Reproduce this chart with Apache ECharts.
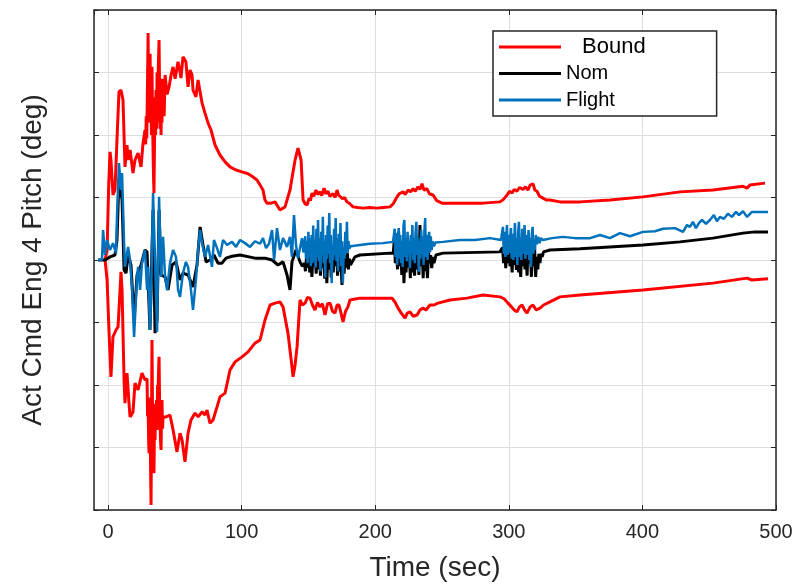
<!DOCTYPE html>
<html>
<head>
<meta charset="utf-8">
<script src="https://cdn.jsdelivr.net/npm/echarts@6/dist/echarts.min.js"></script>
<style>
  html, body { margin: 0; padding: 0; background: #fff; }
  #chart { width: 795px; height: 585px; }
</style>
</head>
<body>
<div id="chart"></div>
<script>
// Engine 4 pitch command: upper/lower bounds, nominal and flight traces.
// Each entry is [time (sec), pitch (deg)].
const boundUpper = [
  [-2.2,0],[-0.7,0.16],[0.5,1.2],[1.5,1.73],[2.2,1.6],[3.7,1.04],[5.2,1.12],[6.7,1.92],[8.2,2.69],[9.7,2.72],
  [11.2,2.56],[12.7,1.49],[14.2,1.84],[15,1.6],[16.5,1.76],[18.7,1.39],[20.2,1.6],[22.5,1.71],[24.7,1.49],[26.2,1.87],
  [27.7,2.08],[28.2,1.85],[28.6,2.3],[29,1.95],[29.4,2.6],[29.7,3.1],[30,3.63],[30.3,2.6],[30.6,2.2],[30.9,3.0],
  [31.2,2.5],[31.5,3.3],[31.8,2.4],[32.1,2.9],[32.5,2.0],[32.9,3.09],[33.3,2.3],[33.7,1.76],[34.1,1.3],[34.4,1.07],
  [34.8,1.9],[35.2,2.6],[35.6,2.0],[35.9,2.72],[36.3,2.1],[36.7,3.0],[37,2.2],[37.4,2.88],[37.8,3.2],[38.2,3.52],
  [38.6,2.7],[38.9,2.1],[39.3,2.9],[39.7,2.0],[40.1,2.7],[40.4,2.2],[40.8,2.9],[41.2,2.5],[41.6,2.8],[42,2.3],
  [42.7,2.96],[44.2,2.65],[45.7,2.77],[47.2,2.96],[48.7,3.09],[50.2,2.9],[52.4,3.17],[53.9,3.01],[54.6,2.91],[56.1,3.25],
  [58.3,3.17],[59.9,2.77],[61.4,3.04],[62.9,2.96],[63.6,2.72],[65.8,2.61],[67.4,2.88],[68.9,2.69],[70.4,2.51],[72.6,2.35],
  [74.9,2.19],[77.1,2.08],[80.1,1.84],[83.8,1.68],[87.6,1.57],[91.3,1.49],[95.8,1.44],[100.3,1.41],[104.8,1.38],[107.8,1.34],
  [111.5,1.28],[113.8,1.2],[116,1.12],[117.5,0.96],[119,0.91],[122,0.91],[125,0.93],[128.7,0.8],[132.5,0.85],[136.2,1.12],
  [140,1.6],[142.2,1.79],[144.5,1.6],[146,0.96],[147.5,0.9],[149,0.88],[150.5,0.99],[151.5,0.95],[152.7,1.07],[154,1.02],
  [155.7,1.12],[157,1.05],[158.7,1.09],[160,1.03],[161.7,1.15],[163,1.06],[164.7,1.1],[166,1.02],[168.4,1.06],[170,1.0],
  [171.4,1.12],[172.5,1.04],[173.7,1.07],[175.5,0.98],[177,1.0],[178.9,0.93],[181,0.9],[183.4,0.85],[187,0.84],[190.9,0.83],
  [196,0.84],[201.3,0.83],[206,0.84],[211.1,0.85],[213.5,0.9],[216.3,1.01],[218,1.06],[220.8,1.09],[222.5,1.05],[224.6,1.12],
  [226.5,1.09],[228.3,1.14],[230,1.1],[232,1.17],[233.5,1.13],[235,1.22],[236.5,1.12],[238.8,1.14],[240.5,1.06],[243.3,1.04],
  [246,0.95],[250,0.91],[256,0.91],[268.7,0.91],[280.7,0.91],[293.4,0.93],[296,0.97],[298.7,1.04],[300.5,1.1],[302.4,1.07],
  [304,1.13],[306.1,1.1],[308,1.16],[310.6,1.13],[312.5,1.17],[314.4,1.12],[316,1.2],[318.1,1.22],[319.5,1.12],[321.1,1.1],
  [323,1.02],[325.6,0.99],[328,0.96],[330.8,0.96],[338.3,0.93],[353.3,0.93],[375.7,0.96],[400.4,1.01],[428.1,1.09],[452.8,1.12],
  [475.3,1.18],[478.3,1.15],[480.5,1.2],[491.8,1.23]
];

const boundLower = [
  [-2.2,0],[-0.7,-0.32],[0.7,-1.12],[2.2,-1.87],[3.7,-1.23],[6,-1.12],[7.5,-1.07],[9,-0.48],[9.7,-0.19],[10.5,-0.48],
  [12,-1.92],[12.7,-2.29],[14.2,-1.81],[15.7,-2.29],[16.5,-2.51],[18.7,-2.43],[20.2,-1.97],[22.5,-2.08],[25.4,-1.81],[27.7,-1.92],
  [29.2,-1.9],[29.6,-2.5],[30,-2.35],[30.4,-2.9],[30.7,-3.09],[31,-2.2],[31.3,-2.9],[31.7,-3.0],[32,-3.6],[32.2,-3.92],
  [32.6,-2.5],[32.9,-1.28],[33.3,-2.4],[33.7,-2.6],[34,-3.1],[34.4,-3.41],[34.8,-2.5],[35.2,-2.88],[35.6,-2.3],[35.9,-2.7],
  [36.3,-2.24],[36.7,-2.72],[37.1,-2.0],[37.4,-2.2],[37.8,-1.8],[38.2,-1.55],[38.6,-2.3],[38.9,-2.56],[39.3,-2.9],[39.7,-3.04],
  [40.1,-2.4],[40.4,-2.24],[40.8,-2.7],[41.2,-2.51],[43.4,-2.51],
  [46.4,-2.48],[48.7,-2.72],[51.6,-3.07],[53.9,-2.77],[55.4,-2.88],[57.6,-3.23],[59.9,-2.77],[62.1,-2.56],[65.1,-2.45],[67.4,-2.51],
  [70.4,-2.43],[72.6,-2.48],[74.1,-2.4],[76.3,-2.61],[78.6,-2.56],[81.6,-2.35],[83.8,-2.19],[87.6,-2.13],[91.3,-1.76],[95.1,-1.63],
  [100.3,-1.55],[104.8,-1.47],[110,-1.33],[113.8,-1.28],[117.5,-0.96],[121.3,-0.72],[125,-0.69],[128.7,-0.67],[131,-0.75],[134.7,-1.17],
  [137.7,-1.71],[138.5,-1.87],[140,-1.68],[141.5,-1.39],[143.7,-0.64],[145.5,-0.72],[147.5,-0.69],[149.3,-0.6],[151.2,-0.61],[153,-0.72],
  [154.9,-0.8],[156.8,-0.68],[158.7,-0.75],[160.5,-0.7],[162.4,-0.88],[164.3,-0.7],[166.2,-0.69],[168,-0.82],[169.9,-0.85],[171.4,-0.72],
  [172.9,-0.72],[174.4,-0.85],[175.9,-0.99],[177.8,-0.82],[179.6,-0.75],[181.1,-0.64],[188.6,-0.61],[201.3,-0.61],[212.6,-0.61],[215,-0.68],
  [217.1,-0.77],[219.5,-0.85],[222.3,-0.93],[224,-0.85],[226,-0.83],[228.5,-0.9],[231.3,-0.88],[233.5,-0.8],[235.8,-0.77],[238,-0.8],
  [241,-0.72],[244,-0.72],[247,-0.69],[256,-0.64],[268.7,-0.61],[280.7,-0.56],[293.4,-0.59],[296.5,-0.62],[299.4,-0.69],[302,-0.75],
  [304,-0.8],[306.1,-0.83],[308,-0.75],[309.9,-0.72],[311.8,-0.8],[313.6,-0.85],[316,-0.75],[318.1,-0.72],[320.5,-0.8],[323.4,-0.77],
  [326,-0.72],[330.8,-0.67],[338.3,-0.59],[353.3,-0.56],[400.4,-0.48],[452.8,-0.37],[478.3,-0.29],[482,-0.32],[494,-0.3]
];

const nom = [
  [-7.5,0],[-2.2,0],[1.5,0.05],[5.2,0.08],[6.7,0.32],[8.2,1.3],[10.5,0.96],[12,-0.16],[13.5,-0.21],[15,0.08],
  [17.2,-0.08],[19.5,-0.96],[21.7,-0.24],[24.7,-0.08],[27.7,0.16],[29.2,0.13],[31.4,-1.12],[32.9,0.16],[33.7,0.8],[35.2,-1.17],
  [36.7,-0.96],[38.2,0.8],[39.7,-0.24],[42.7,-0.27],[44.9,-0.48],[47.9,-0.08],[50.9,-0.03],[53.9,-0.32],[56.1,-0.21],[59.9,-0.24],
  [63.6,-0.43],[66.6,-0.08],[68.9,0.53],[71.1,0.24],[73.4,-0.03],[76.3,0],[79.3,0.08],[82.3,-0.05],[85.3,-0.05],[88.3,0.03],
  [92.8,0.06],[98.8,0.08],[110,0.03],[117.5,0.03],[122.8,0],[127.2,-0.08],[131,-0.03],[134,-0.24],[136.2,-0.48],[137.7,-0.03],
  [140.7,0.16],[143.7,-0.03],[145.5,-0.1],
  [147,-0.05],[147.8,-0.18],[148.6,0.05],[149.4,-0.12],[150.2,0.1],[151,-0.2],[151.8,0],[152.6,-0.27],[153.4,0.08],[154.2,-0.1],
  [155,0.15],[155.8,-0.22],[156.6,0.05],[157.4,-0.15],[158.2,0.2],[159,-0.25],[159.8,0.02],[160.6,-0.12],[161.4,0.18],[162.2,-0.3],
  [163,0.05],[163.8,-0.37],[164.6,0.1],[165.4,-0.15],[166.2,0.25],[167,-0.28],[167.8,0],[168.6,-0.2],[169.4,0.15],[170.2,-0.1],
  [171,0.22],[171.8,-0.25],[172.6,0.02],[173.4,-0.18],[174.2,0.1],[175.1,-0.4],[175.9,0.05],[176.7,-0.22],[177.5,0.08],[178.3,-0.12],
  [179.1,0.12],[179.9,-0.15],[180.7,0.02],[181.5,-0.08],[184.8,0.05],[188.6,0.08],[211.1,0.11],
  [213.5,0.11],[214.3,0.32],[215.1,-0.05],[215.9,0.2],[216.7,-0.15],[217.5,0.45],[218.3,-0.1],[219.1,0.15],[219.9,-0.24],[220.7,0.3],
  [221.5,-0.37],[222.3,0.05],[223.1,-0.2],[223.9,0.25],[224.7,-0.12],[225.5,0.1],[226.3,-0.29],[227.1,0.35],[227.9,-0.2],[228.7,0.05],
  [229.5,-0.25],[230.3,0.3],[231.1,-0.15],[231.9,0.1],[232.7,-0.24],[233.5,0.56],[234.3,-0.1],[235.1,0.15],[235.9,-0.29],[236.7,0.22],
  [237.5,-0.18],[238.3,0.05],[239.1,-0.29],[239.9,0.12],[240.7,-0.05],[241.5,0.08],[242.3,-0.13],[243.1,0.05],[244,-0.05],[245.5,0.08],
  [250.7,0.11],[293.4,0.13],
  [294.5,0.13],[295.3,0.2],[296.1,-0.05],[296.9,0.25],[297.7,-0.13],[298.5,0.15],[299.3,-0.05],[300.1,0.32],[300.9,-0.1],[301.7,0.1],
  [302.5,-0.2],[303.3,0.22],[304.1,-0.08],[304.9,0.15],[305.7,-0.16],[306.5,0.28],[307.3,-0.2],[308.1,0.05],[308.9,-0.27],[309.7,0.2],
  [310.5,-0.1],[311.3,0.24],[312.1,-0.15],[312.9,0.1],[313.7,-0.25],[314.5,0.32],[315.3,-0.05],[316.1,0.15],[316.9,-0.27],[317.7,0.12],
  [318.5,-0.1],[319.3,0.2],[320.1,-0.27],[320.9,0.05],[321.7,-0.15],[322.5,0.1],[323.3,-0.05],[324.1,0.1],[325,0.05],[326,0.13],
  [330.8,0.16],[353.3,0.18],[400.4,0.24],[428.1,0.29],[452.8,0.35],[475.3,0.43],[484.3,0.45],[494,0.45]
];

const flight = [
  [-7.5,0],[-4.5,0],[-3.7,0.48],[-2.2,0.08],[-0.7,0.32],[1.5,0.16],[3.7,0.27],[6,0.11],[6.7,0.69],[8.2,1.55],
  [9.7,1.12],[10.5,1.39],[12,0.27],[12.7,-0.11],[15,0.21],[16.5,0],[18,-0.48],[19.5,-1.23],[21.7,-0.27],[22.5,-0.11],
  [24,-0.48],[25.4,-0.05],[27.7,0.16],[29.2,-0.48],[30,-0.11],[31.4,-1.12],[32.2,-0.64],[33.7,1.07],[35.2,0],[36.7,-1.15],
  [38.2,1.01],[39.7,-0.27],[41.2,0.37],[42.7,-0.27],[44.2,-0.48],[46.4,-0.05],[48.7,0.16],[50.9,0.05],[52.4,-0.48],[53.9,-0.59],
  [56.1,-0.21],[58.3,-0.03],[59.9,-0.11],[62.1,-0.48],[63.6,-0.8],[65.8,-0.32],[67.4,0.16],[68.9,0.48],[70.4,0.27],[72.6,0.05],
  [74.9,0.24],[77.8,-0.11],[79.3,0.32],[81.6,0.19],[83.8,0.05],[86.1,0.32],[89.1,0.24],[92.8,0.29],[95.8,0.21],[98.8,0.32],
  [102.5,0.27],[106.3,0.21],[110,0.3],[113.8,0.26],[116,0.35],[118.3,0.19],[120.5,0.26],[122.8,0.48],[124.3,0],[126.5,0.51],
  [128.7,0.16],[131,0.35],[134,0.21],[136.2,0.37],[137.7,0.05],[139.2,0.72],[140.7,0.24],[142.2,0.03],[145.2,0.35],[146.2,0.12],
  [147,0.1],[147.6,0.38],[148.2,0.02],[148.8,0.3],[149.4,-0.05],[150,0.45],[150.6,0.05],[151.2,0.35],[151.8,-0.1],[152.4,0.4],
  [153,-0.05],[153.6,0.55],[154.2,0],[154.8,0.3],[155.4,-0.12],[156,0.5],[156.6,0.05],[157.2,0.64],[157.8,-0.02],[158.4,0.35],
  [159,-0.18],[159.6,0.45],[160.2,0.08],[160.8,0.69],[161.4,-0.05],[162,0.3],[162.6,-0.28],[163.2,0.4],[163.8,0.02],[164.4,0.55],
  [165,0.1],[165.6,0.75],[166.2,-0.05],[166.8,0.4],[167.4,-0.37],[168,0.25],[168.6,0],[169.2,0.5],[169.8,0.08],[170.4,0.67],
  [171,-0.02],[171.6,0.35],[172.2,-0.18],[172.8,0.42],[173.4,0.05],[174,0.59],[174.6,-0.1],[175.2,0.3],[175.8,-0.37],[176.4,0.2],
  [177,0.02],[177.6,0.45],[178.2,0.1],[178.8,0.61],[179.4,0.12],[180,0.3],[180.6,0.18],[181.5,0.22],
  [188.6,0.24],[196,0.26],[205.8,0.27],[213.3,0.29],
  [214,0.3],[214.6,0.5],[215.2,0.05],[215.8,0.43],[216.4,-0.08],[217,0.35],[217.6,0.51],[218.2,0.02],[218.8,0.4],[219.4,-0.05],
  [220,0.3],[220.6,-0.11],[221.2,0.55],[221.8,0.64],[222.4,0.05],[223,0.35],[223.6,-0.02],[224.2,0.45],[224.8,0.1],[225.4,0.3],
  [226,-0.13],[226.6,0.4],[227.2,0.1],[227.8,0.56],[228.4,0],[229,0.35],[229.6,-0.05],[230.2,0.45],[230.8,0.61],[231.4,0.08],
  [232,0.35],[232.6,-0.19],[233.2,0.3],[233.8,0.02],[234.4,0.48],[235,0.1],[235.6,0.38],[236.2,-0.08],[236.8,0.45],[237.4,0.67],
  [238,0.05],[238.6,0.4],[239.2,0],[239.8,0.35],[240.4,0.45],[241,0.12],[241.6,0.38],[242.2,0.16],[243,0.3],[244,0.22],
  [245,0.28],[250.7,0.29],[263.5,0.32],[274.7,0.32],[286,0.35],[294.2,0.32],
  [295,0.32],[295.6,0.53],[296.2,0.1],[296.8,0.45],[297.4,0.05],[298,0.3],[298.6,0.56],[299.2,0.08],[299.8,0.4],[300.4,0.11],
  [301,0.35],[301.6,0.51],[302.2,0.02],[302.8,0.42],[303.4,0],[304,0.3],[304.6,0.59],[305.2,0.05],[305.8,0.35],[306.4,-0.08],
  [307,0.45],[307.6,0.61],[308.2,0.05],[308.8,0.3],[309.4,0],[310,0.5],[310.6,0.1],[311.2,0.35],[311.8,0.56],[312.4,0.02],
  [313,0.4],[313.6,0.08],[314.2,0.3],[314.8,0.48],[315.4,0],[316,0.35],[316.6,-0.11],[317.2,0.4],[317.8,0.53],[318.4,0.1],
  [319,0.3],[319.6,0.16],[320.2,0.4],[321,0.25],[322,0.37],[323,0.27],[324,0.35],[325.5,0.32],
  [332.3,0.35],[340.6,0.37],[349.6,0.35],[360.8,0.35],[368.3,0.4],[375.7,0.35],[383.2,0.43],[390.7,0.38],[400.4,0.45],[409.4,0.46],
  [415.4,0.5],[424.4,0.51],[430.4,0.45],[433.4,0.56],[435.6,0.53],[437.8,0.61],[440.1,0.51],[442.3,0.59],[444.6,0.64],[447.6,0.58],
  [450.6,0.64],[453.5,0.72],[455.8,0.62],[458,0.69],[461,0.66],[464,0.74],[467,0.69],[470,0.77],[472.3,0.72],[475.3,0.78],
  [478.3,0.69],[482,0.77],[494,0.77]
];

const legendNames = ['Bound', 'Nom', 'Flight'];
const timeRange = [-10.5, 500];
const pitchRange = [-4, 4];
const pitchStep = 1;

const FONT = '"Liberation Sans", Arial, Helvetica, sans-serif';
const INK = '#262626';
const GRID = '#dedede';

const chart = echarts.init(document.getElementById('chart'), null, { renderer: 'canvas' });

function xAxisDef(pos, withLabels) {
  return {
    type: 'value', position: pos,
    min: timeRange[0], max: timeRange[1], splitNumber: 5,
    axisLine: { show: true, onZero: false, lineStyle: { color: INK, width: 1.5 } },
    axisTick: { show: true, inside: true, length: 5, lineStyle: { color: INK, width: 1 } },
    axisLabel: withLabels ? {
      show: true, showMinLabel: false, color: INK, fontSize: 20, margin: 12, fontFamily: FONT
    } : { show: false },
    splitLine: { show: withLabels, lineStyle: { color: GRID, width: 1 } },
    name: withLabels ? 'Time (sec)' : '',
    nameLocation: 'middle', nameGap: 44,
    nameTextStyle: { color: INK, fontSize: 28, fontFamily: FONT }
  };
}

function yAxisDef(pos, withName) {
  return {
    type: 'value', position: pos,
    min: pitchRange[0], max: pitchRange[1], interval: pitchStep,
    axisLine: { show: true, onZero: false, lineStyle: { color: INK, width: 1.5 } },
    axisTick: { show: true, inside: true, length: 5, lineStyle: { color: INK, width: 1 } },
    axisLabel: { show: false },
    splitLine: { show: withName, lineStyle: { color: GRID, width: 1 } },
    name: withName ? 'Act Cmd Eng 4 Pitch (deg)' : '',
    nameLocation: 'middle', nameGap: 47,
    nameTextStyle: { color: INK, fontSize: 28, fontFamily: FONT }
  };
}

chart.setOption({
  animation: false,
  backgroundColor: '#ffffff',
  grid: { left: 94, right: 19, top: 10, bottom: 75, outerBoundsMode: 'none' },
  xAxis: [xAxisDef('bottom', true), xAxisDef('top', false)],
  yAxis: [yAxisDef('left', true), yAxisDef('right', false)],
  legend: {
    data: legendNames.map(function (n) { return { name: n, icon: 'rect' }; }),
    orient: 'vertical', left: 493, top: 31,
    itemWidth: 62, itemHeight: 3, itemGap: 4.5,
    padding: [5, 71, 5, 6],
    backgroundColor: '#ffffff', borderColor: INK, borderWidth: 1.5,
    formatter: function (n) { return n === 'Bound' ? '{b|Bound}' : n; },
    textStyle: {
      color: '#000', fontSize: 20, lineHeight: 22, fontFamily: FONT,
      rich: { b: { color: '#000', fontSize: 22, lineHeight: 22, fontFamily: FONT, padding: [0, 0, 0, 16] } }
    }
  },
  series: [
    { name: 'Bound', type: 'line', data: boundUpper, symbol: 'none', z: 2,
      lineStyle: { color: '#ff0000', width: 3 }, itemStyle: { color: '#ff0000' } },
    { name: 'Bound', type: 'line', data: boundLower, symbol: 'none', z: 2,
      lineStyle: { color: '#ff0000', width: 3 }, itemStyle: { color: '#ff0000' } },
    { name: 'Nom', type: 'line', data: nom, symbol: 'none', z: 3,
      lineStyle: { color: '#000000', width: 3 }, itemStyle: { color: '#000000' } },
    { name: 'Flight', type: 'line', data: flight, symbol: 'none', z: 4,
      lineStyle: { color: '#0072bd', width: 2.5 }, itemStyle: { color: '#0072bd' } }
  ]
});
</script>
</body>
</html>
